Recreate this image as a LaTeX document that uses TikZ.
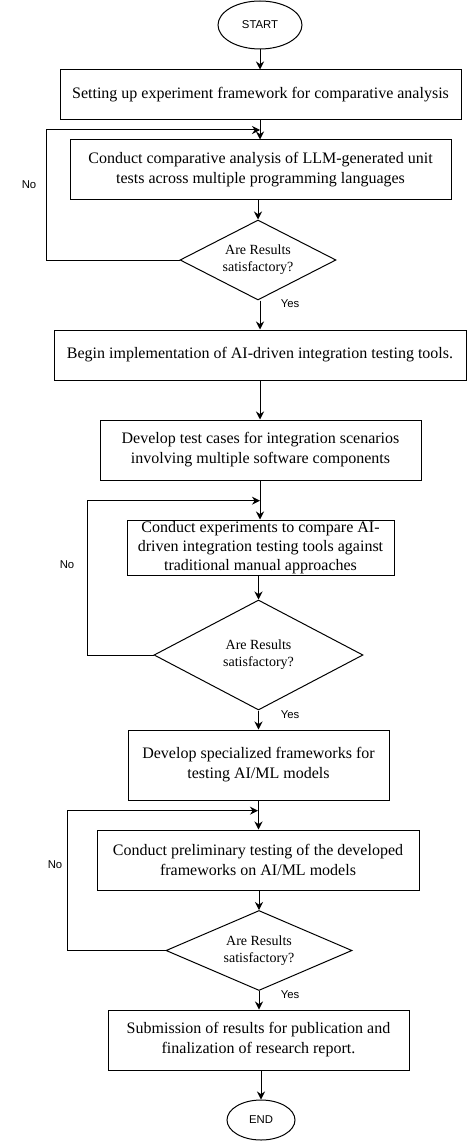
\documentclass[tikz,border=0pt]{standalone}
\usepackage{fontspec}
\setmainfont{Liberation Serif}
\newfontfamily\labelfont{Liberation Sans}
\usetikzlibrary{shapes.geometric,arrows.meta}
\tikzset{
  box/.style={draw, line width=0.75pt, rectangle, inner sep=0pt, align=center,
    font=\fontsize{12pt}{15pt}\selectfont},
  dec/.style={draw, line width=0.75pt, diamond, aspect=2, inner sep=0pt, align=center,
    font=\fontsize{10.5pt}{12.75pt}\selectfont},
  term/.style={draw, line width=0.75pt, ellipse, inner sep=0pt,
    font=\labelfont\fontsize{8.5pt}{10pt}\selectfont},
  lab/.style={font=\labelfont\fontsize{8.5pt}{10pt}\selectfont, inner sep=0pt},
  arr/.style={line width=0.75pt, -{Stealth[length=6pt, width=6pt]}},
}
\begin{document}
\begin{tikzpicture}[x=0.75pt, y=-0.75pt]
\useasboundingbox (0,0) rectangle (467,1141);
\node[term, minimum width=63pt, minimum height=36pt] (start) at (260,25) {START};
\node[box, minimum width=300.75pt, minimum height=37.5pt] (b1) at (260.5,95) {Setting up experiment framework for comparative analysis};
\node[box, minimum width=285.75pt, minimum height=45pt] (b2) at (260.5,170) {Conduct comparative analysis of LLM-generated unit\\tests across multiple programming languages};
\node[dec, minimum width=117pt, minimum height=60pt] (d1) at (258,260) {Are Results\\satisfactory?};
\node[box, minimum width=309pt, minimum height=37.5pt] (b3) at (260,355) {Begin implementation of AI-driven integration testing tools.};
\node[box, minimum width=240.75pt, minimum height=45pt] (b4) at (260.5,450) {Develop test cases for integration scenarios\\involving multiple software components};
\node[box, minimum width=200.25pt, minimum height=41.25pt, font=\fontsize{12pt}{14.25pt}\selectfont] (b5) at (260.5,547.5) {Conduct experiments to compare AI-\\driven integration testing tools against\\traditional manual approaches};
\node[dec, minimum width=156.75pt, minimum height=82.5pt] (d2) at (258.5,655) {Are Results\\satisfactory?};
\node[box, minimum width=195.75pt, minimum height=52.5pt] (b6) at (258.5,765) {Develop specialized frameworks for\\testing AI/ML models};
\node[box, minimum width=241.5pt, minimum height=45pt] (b7) at (258,860) {Conduct preliminary testing of the developed\\frameworks on AI/ML models};
\node[dec, minimum width=139.5pt, minimum height=60pt] (d3) at (259,950.5) {Are Results\\satisfactory?};
\node[box, minimum width=225.75pt, minimum height=45pt] (b8) at (258.5,1040) {Submission of results for publication and\\finalization of research report.};
\node[term, minimum width=51pt, minimum height=30pt] (end) at (261,1120) {END};

% main flow
\draw[arr] (start.south) -- (start.south |- b1.north);
\draw[arr] (b1.south -| start) -- (start |- b2.north);
\draw[arr] (d1.north |- b2.south) -- (d1.north);
\draw[arr] (d1.south) ++(2,0) coordinate (d1s) -- (d1s |- b3.north);
\draw[arr] (b3.south) -- (b3.south |- b4.north);
\draw[arr] (b4.south -| b3) -- (b3 |- b5.north);
\draw[arr] (d2.north |- b5.south) -- (d2.north);
\draw[arr] (d2.south) -- (d2.south |- b6.north);
\draw[arr] (b6.south) -- (b6.south |- b7.north);
\draw[arr] (b7.south -| d3) -- (d3.north);
\draw[arr] (d3.south) -- (d3.south |- b8.north);
\draw[arr] (end.north |- b8.south) -- (end.north);

% feedback loops
\coordinate (j1) at (260,130);
\coordinate (l1) at (46,130);
\draw[arr] (d1.west) -| (l1) -- (j1);
\coordinate (j2) at (260,500.7);
\coordinate (l2) at (87,500.7);
\draw[arr] (d2.west) -| (l2) -- (j2);
\coordinate (j3) at (258,810.7);
\coordinate (l3) at (67,810.7);
\draw[arr] (d3.west) -| (l3) -- (j3);

% labels
\node[lab] (no1) at (29,185) {No};
\node[lab] (no2) at (67,565) {No};
\node[lab] (no3) at (55,865) {No};
\node[lab] (yes1) at (290,304) {Yes};
\node[lab] (yes2) at (290,715) {Yes};
\node[lab] (yes3) at (290,995) {Yes};
\end{tikzpicture}
\end{document}
